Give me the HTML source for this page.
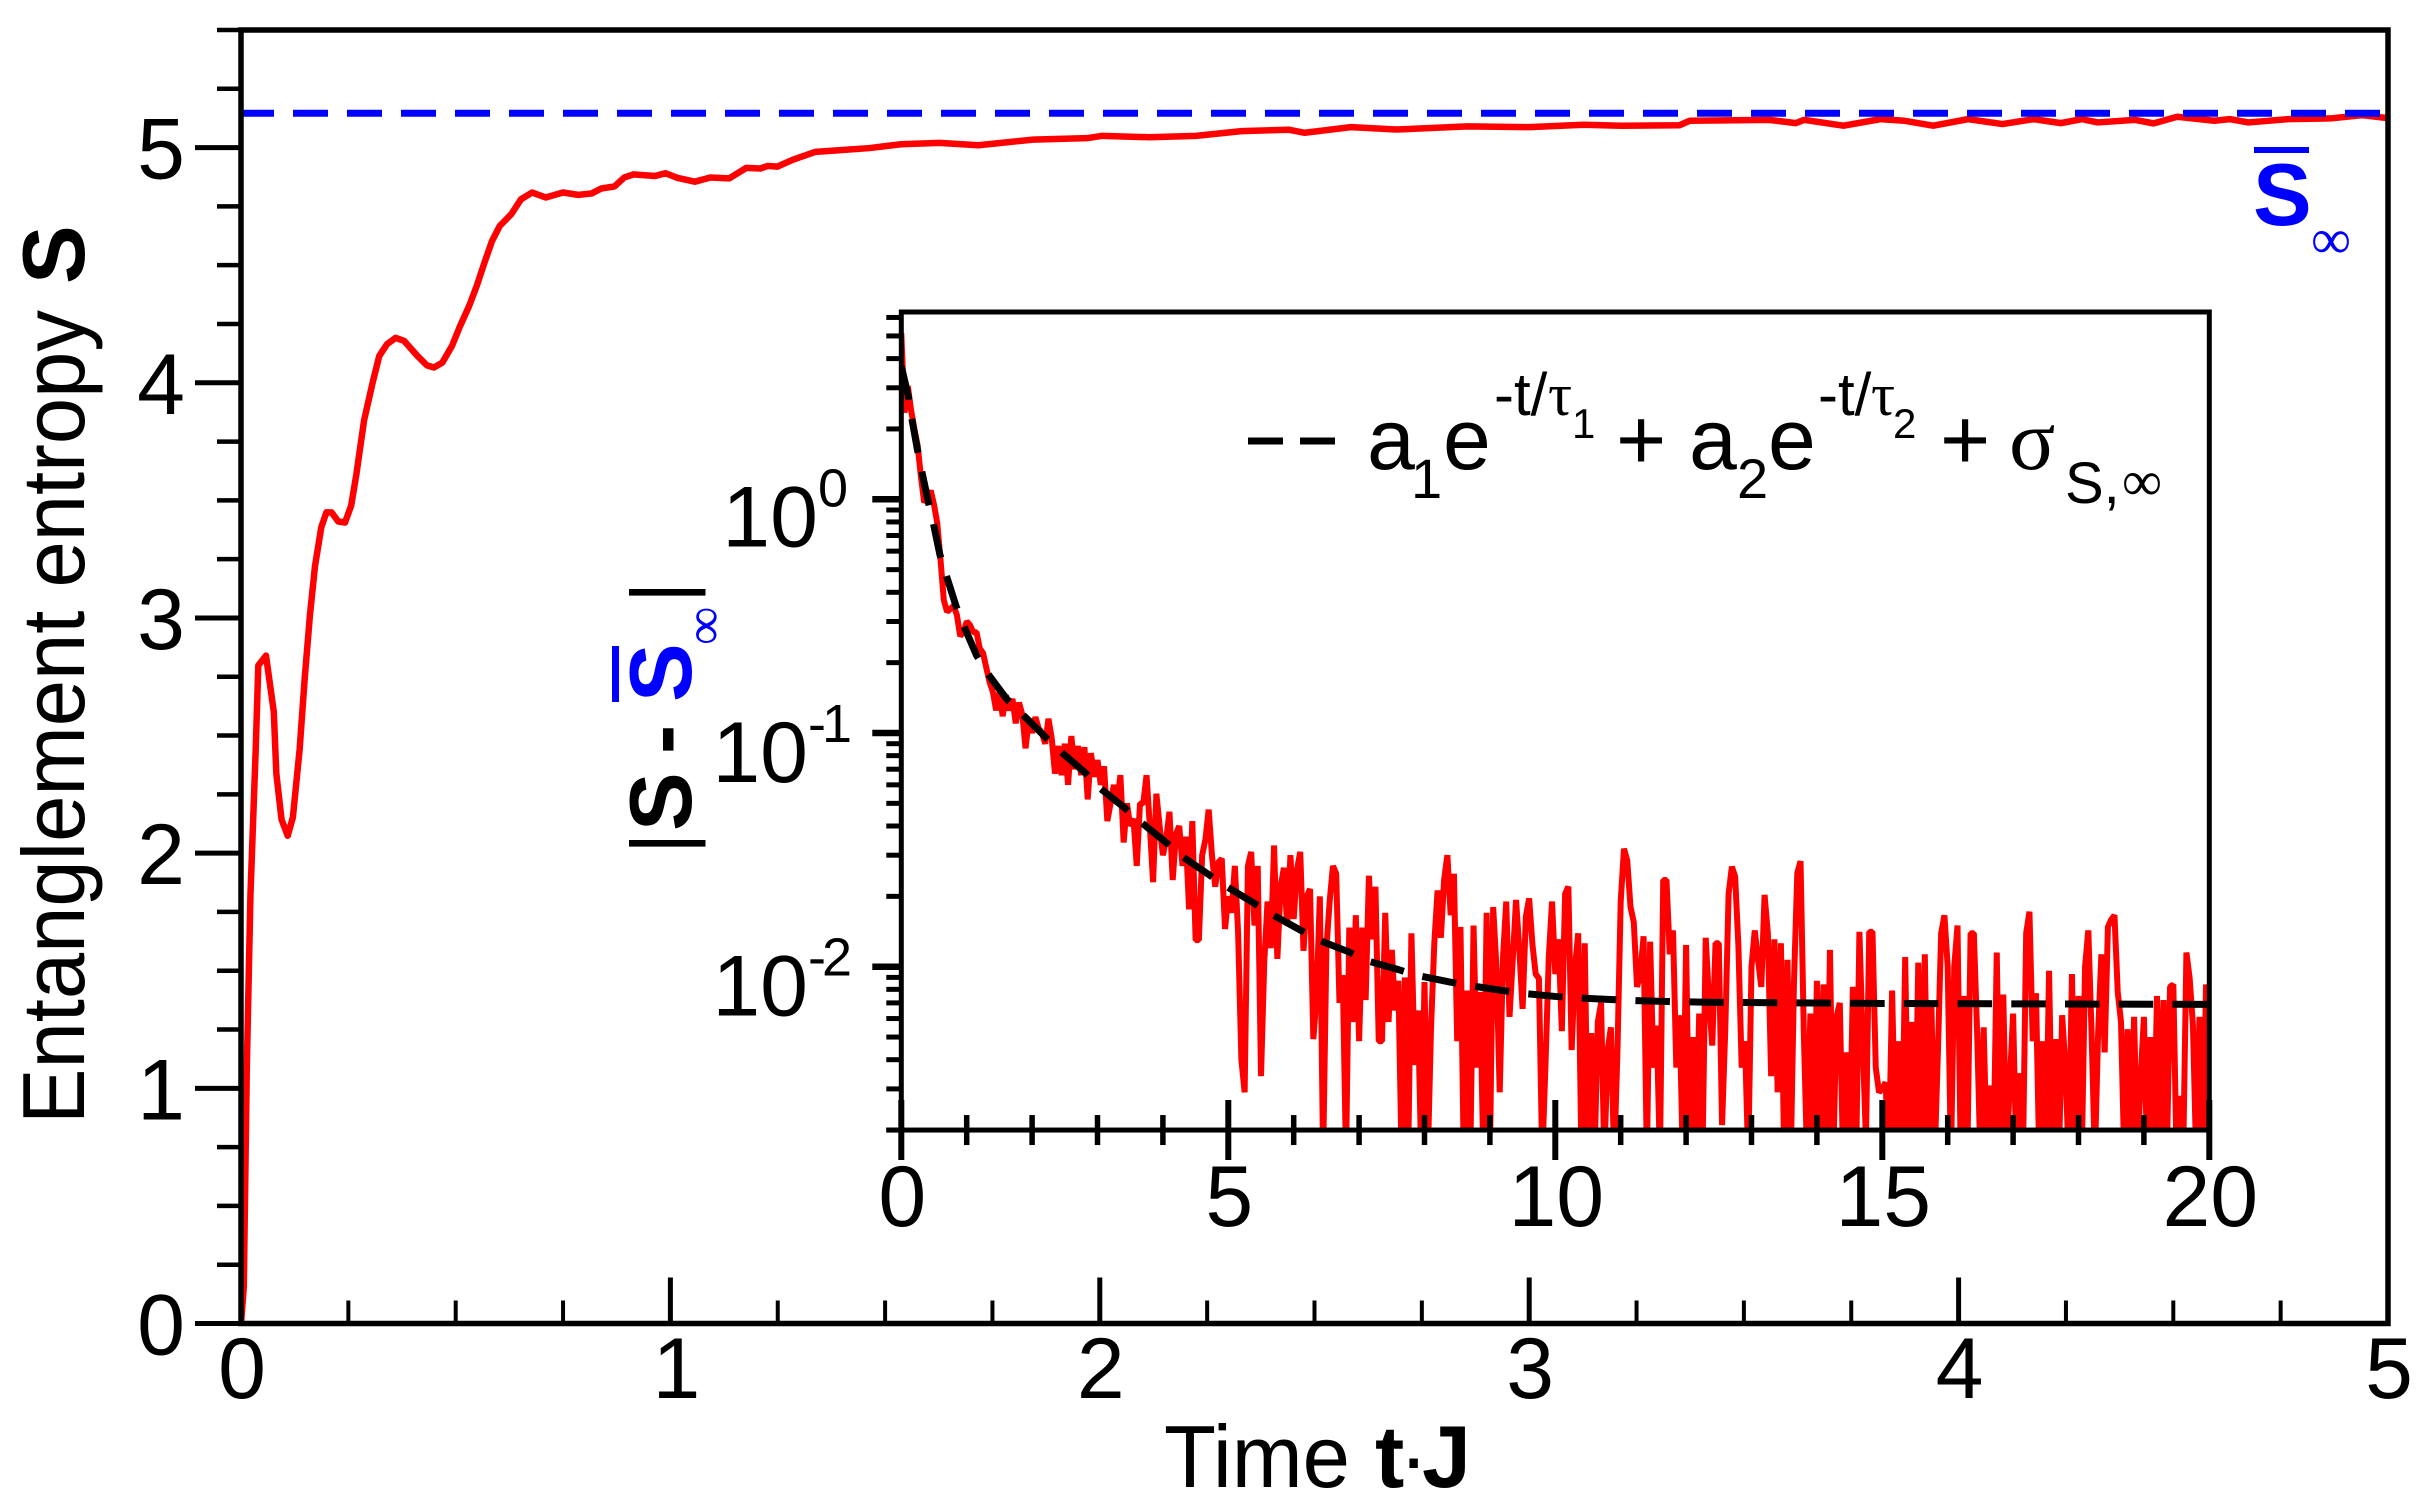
<!DOCTYPE html>
<html lang="en">
<head>
<meta charset="utf-8">
<title>Entanglement entropy vs time</title>
<style>
html,body{margin:0;padding:0;background:#fff;}
svg{display:block;}
text{font-family:"Liberation Sans",sans-serif;fill:#000;}
.b{font-weight:bold;}
.sym{font-family:"Liberation Serif",serif;}
</style>
</head>
<body>
<svg id="chart" xmlns="http://www.w3.org/2000/svg" width="2430" height="1508" viewBox="0 0 2430 1508">
<rect x="0" y="0" width="2430" height="1508" fill="#fff"/>
<defs>
<clipPath id="mainClip"><rect x="241" y="30" width="2147" height="1293.5"/></clipPath>
<clipPath id="insetClip"><rect x="901.3" y="312" width="1308" height="818"/></clipPath>
</defs>
<g id="mainMarks" clip-path="url(#mainClip)"></g>
<g id="mainAxes"></g>
<g id="insetMarks" clip-path="url(#insetClip)"></g>
<g id="insetAxes"></g>

<text x="1164" y="1487" font-size="88" textLength="186" lengthAdjust="spacingAndGlyphs">Time</text>
<text class="b" x="1375" y="1487" font-size="88">t</text>
<text x="1399" y="1487" font-size="88">·</text>
<text class="b" x="1422" y="1487" font-size="88">J</text>

<text transform="translate(84,1124) rotate(-90)" font-size="88" textLength="814" lengthAdjust="spacingAndGlyphs">Entanglement entropy</text>
<text class="b" transform="translate(84,284) rotate(-90)" font-size="88">S</text>

<g>
<rect x="2254" y="147" width="55" height="6" fill="#00f"/>
<text class="b" x="2253" y="225" font-size="88" style="fill:#00f">S</text>
<text class="sym" x="2311" y="258" font-size="56" style="fill:#00f">∞</text>
</g>

<g>
<text transform="translate(688,854) rotate(-90)" font-size="82">|</text>
<text class="b" transform="translate(691,831) rotate(-90)" font-size="88">S</text>
<text class="b" transform="translate(691,754) rotate(-90)" font-size="88">-</text>
<text class="b" transform="translate(691,702) rotate(-90)" font-size="88" style="fill:#00f">S</text>
<rect x="612" y="646" width="7" height="56" fill="#00f"/>
<text class="sym" transform="translate(722,645) rotate(-90)" font-size="54" style="fill:#00f">∞</text>
<text transform="translate(688,603) rotate(-90)" font-size="82">|</text>
</g>

<g>
<path d="M1248,441H1283M1300,441H1335" stroke="#000" stroke-width="7" fill="none"/>
<text x="1367" y="469" font-size="86">a</text>
<text x="1411" y="498" font-size="56">1</text>
<text x="1443" y="469" font-size="86">e</text>
<text x="1494" y="415" font-size="60">-t/</text>
<text class="sym" x="1548" y="415" font-size="60">τ</text>
<text x="1572" y="438" font-size="42">1</text>
<text x="1616" y="469" font-size="86">+</text>
<text x="1689" y="469" font-size="86">a</text>
<text x="1737" y="498" font-size="56">2</text>
<text x="1768" y="469" font-size="86">e</text>
<text x="1818" y="415" font-size="60">-t/</text>
<text class="sym" x="1871" y="415" font-size="60">τ</text>
<text x="1893" y="438" font-size="42">2</text>
<text x="1940" y="469" font-size="86">+</text>
<text class="sym" x="2009" y="469" font-size="86">σ</text>
<text x="2065" y="503" font-size="58">S,</text>
<text class="sym" x="2122" y="500" font-size="56">∞</text>
</g>

<script>
var mainTime = [0,.0065,.0137,.022,.0342,.0403,.0582,.0763,.0823,.0944,.1088,.1208,.1365,.1485,.1607,.1723,.187,.199,.211,.2266,.2423,.2566,.2688,.2866,.307,.322,.34,.36,.38,.411,.433,.4495,.469,.4914,.509,.5314,.549,.567,.5846,.6027,.6295,.652,.678,.7096,.75,.7855,.8167,.839,.87,.8925,.9146,.9637,.9886,1.017,1.057,1.093,1.137,1.177,1.209,1.2266,1.249,1.2846,1.338,1.372,1.464,1.536,1.627,1.717,1.844,1.97,2.006,2.115,2.224,2.33,2.44,2.477,2.585,2.69,2.857,3.0,3.127,3.214,3.35,3.374,3.559,3.621,3.64,3.732,3.818,3.874,3.941,4.022,4.102,4.175,4.238,4.287,4.324,4.41,4.454,4.509,4.595,4.632,4.675,4.767,4.866,4.94,5.0];
var mainEntropy = [0,.155,1.104,1.823,2.44,2.798,2.84,2.602,2.338,2.143,2.074,2.152,2.44,2.747,3.015,3.22,3.386,3.449,3.449,3.41,3.406,3.478,3.612,3.84,4.004,4.114,4.164,4.191,4.178,4.114,4.074,4.065,4.086,4.157,4.236,4.327,4.412,4.511,4.603,4.667,4.717,4.78,4.809,4.788,4.809,4.799,4.805,4.826,4.835,4.873,4.886,4.879,4.891,4.871,4.855,4.873,4.869,4.914,4.911,4.922,4.919,4.948,4.982,4.986,4.998,5.014,5.02,5.01,5.034,5.04,5.05,5.044,5.05,5.07,5.076,5.063,5.087,5.077,5.09,5.087,5.097,5.093,5.095,5.114,5.118,5.104,5.118,5.093,5.121,5.114,5.093,5.121,5.1,5.121,5.104,5.121,5.107,5.118,5.103,5.131,5.114,5.121,5.107,5.121,5.124,5.138,5.125];
var saturationEntropy = [5.146];
var mainXMajorTicks = [0,1,2,3,4,5];
var mainXMinorTicks = [.25,.5,.75,1.25,1.5,1.75,2.25,2.5,2.75,3.25,3.5,3.75,4.25,4.5,4.75];
var mainYMajorTicks = [0,1,2,3,4,5];
var mainYMinorTicks = [.25,.5,.75,1.25,1.5,1.75,2.25,2.5,2.75,3.25,3.5,3.75,4.25,4.5,4.75,5.25,5.5];

var insetTimeStep = [0.05];
var insetDeviation = [
5.15,2.35,3.05,2.4,2.0,1.7,1.25,.97,1.01,1.09,.95,.79,.55,.37,.33,.34,.35,.32,.26,.27,
.3,.29,.27,.27,.23,.22,.19,.165,.15,.125,.15,.118,.145,.125,.14,.11,.135,.12,.086,.115,
.1,.117,.105,.1,.09,.115,.095,.067,.088,.066,.09,.06,.097,.07,.088,.066,.087,.052,.082,.065,
.0766,.06,.072,.042,.05,.06,.05,.066,.034,.05,.04,.043,.027,.05,.05,.066,.04,.023,.055,.04,
.03,.035,.046,.0235,.037,.04,.027,.036,.0176,.042,.013,.013,.03,.035,.047,.03,.022,.028,.029,.0145,
.02,.017,.027,.014,.004,.0029,.027,.031,.015,.027,.0034,.0105,.019,.012,.033,.0108,.022,.0265,.015,.03,
.016,.026,.031,.0117,.02,.0215,.0049,.0075,.02,.0015,.012,.019,.027,.025,.007,.0092,.0015,.0147,.0058,.0166,
.0048,.0147,.0072,.0245,.0131,.022,.0048,.0048,.017,.0058,.0118,.0065,.0087,.0015,.009,.0015,.0139,.0038,.0065,.0015,
.0086,.0015,.0055,.0126,.0212,.0133,.0235,.03,.0166,.025,.0048,.0148,.0015,.0079,.0015,.015,.0037,.0078,.0015,.017,
.0015,.018,.01,.0029,.0109,.019,.0061,.0108,.0193,.0118,.0066,.0164,.0196,.0125,.0093,.0089,.0015,.0038,.0109,.019,
.0093,.0131,.0053,.0205,.022,.0044,.0098,.0139,.0015,.0126,.0015,.0052,.0015,.0058,.007,.0015,.0044,.0055,.0015,.0043,
.019,.032,.0285,.018,.0155,.0082,.0093,.0135,.0015,.0128,.0037,.0056,.0015,.0235,.0235,.0113,.0143,.0037,.0062,.0015,
.0124,.0015,.005,.0015,.0063,.0015,.0133,.0072,.0046,.0126,.0126,.0021,.0055,.0205,.0268,.0243,.0122,.0037,.0048,.0015,
.01,.0143,.0107,.0082,.0203,.0139,.0034,.0131,.0029,.0126,.0015,.0107,.0015,.0087,.0251,.0283,.0052,.0015,.0063,.0015,
.0087,.0015,.0084,.0015,.0118,.0015,.0061,.007,.0015,.0043,.0015,.0082,.0015,.0141,.0048,.0018,.0141,.0141,.0037,.0029,
.003,.0032,.0015,.0079,.0018,.0048,.0015,.011,.0015,.0058,.0015,.0104,.0015,.0113,.0015,.0071,.0015,.0043,.0139,.0166,
.01,.0015,.01,.015,.0015,.0075,.0015,.0139,.0139,.0052,.0015,.0055,.0015,.0031,.0015,.0115,.0015,.0076,.0015,.0032,
.0063,.0015,.0035,.0015,.0139,.0172,.0048,.0077,.0015,.0048,.0015,.0096,.0015,.0049,.0015,.0062,.0037,.0015,.0093,.0015,
.0075,.0015,.01,.0143,.0052,.0015,.0052,.0113,.0043,.0148,.0159,.0166,.0078,.0058,.0015,.0054,.0015,.0061,.0015,.0033,
.0061,.0015,.005,.0015,.0075,.0015,.0072,.0015,.0082,.0084,.0015,.0028,.0015,.0115,.0089,.0056,.0015,.0061,.0015,.0084,
.0015];
var fitTime = [0,.107,.158,.245,.31,.414,.49,.59,.683,.836,.95,1.15,1.305,1.61,1.815,2.197,2.4,2.81,3.01,3.42,3.62,4.06,4.26,4.7,4.92,5.38,5.61,6.07,6.35,6.835,7.09,7.6,7.88,8.39,8.67,9.18,9.46,10,10.28,10.8,11.09,11.63,12.44,15,20];
var fitDeviation = [3.71,2.76,2.24,1.64,1.33,.97,.79,.58,.477,.35,.29,.215,.182,.14,.123,.0965,.085,.0677,.0589,.0477,.0425,.0338,.0301,.0248,.0225,.0188,.0171,.0145,.0131,.0116,.01067,.00972,.00919,.0086,.00832,.00792,.00771,.00746,.00737,.00725,.00718,.00711,.00704,.00696,.0069];
var insetXMajorTicks = [0,5,10,15,20];
var insetXMinorTicks = [1,2,3,4,6,7,8,9,11,12,13,14,16,17,18,19];
var insetYMajorExponents = [0,-1,-2];
var insetYMinorTicks = [.002,.003,.004,.005,.006,.007,.008,.009,.02,.03,.04,.05,.06,.07,.08,.09,.2,.3,.4,.5,.6,.7,.8,.9,2,3,4,5,6];

var NS = 'http://www.w3.org/2000/svg';
function xMain(t){ return 241 + (t - 0) / (5 - 0) * (2388 - 241); }
function yMain(s){ return 1323.5 - (s - 0) / (5.5 - 0) * (1323.5 - 30); }
function xInset(t){ return 901.3 + (t - 0) / (20 - 0) * (2209.3 - 901.3); }
function yInset(v){ return 499.3 - 233.7 * Math.log10(v); }

function make(tag, parent, attrs){
  var el = document.createElementNS(NS, tag);
  for (var k in attrs) el.setAttribute(k, attrs[k]);
  parent.appendChild(el);
  return el;
}
function polyPoints(xs, ys, fx, fy){
  var out = [];
  for (var i = 0; i < xs.length; i++) out.push(fx(xs[i]).toFixed(2) + ',' + fy(ys[i]).toFixed(2));
  return out.join(' ');
}
var mainMarks = document.getElementById('mainMarks');
var mainAxes = document.getElementById('mainAxes');
var insetMarks = document.getElementById('insetMarks');
var insetAxes = document.getElementById('insetAxes');

/* main series */
var curve = make('polyline', mainMarks, {points: polyPoints(mainTime, mainEntropy, xMain, yMain), fill:'none', stroke:'#f00', 'stroke-width':6.5, 'stroke-linejoin':'round'});


var satLine = make('line', mainMarks, {x1: xMain(0) - 2, x2: xMain(5), y1: yMain(saturationEntropy[0]), y2: yMain(saturationEntropy[0]), stroke:'#00f', 'stroke-width':7, 'stroke-dasharray':'35 19'});



/* main axes */
var frame = make('rect', mainAxes, {x: xMain(0), y: yMain(5.5), width: xMain(5) - xMain(0), height: yMain(0) - yMain(5.5), fill:'none', stroke:'#000', 'stroke-width':5.5});


mainXMajorTicks.forEach(function(t){
  var tick = make('line', mainAxes, {x1:xMain(t), x2:xMain(t), y1:yMain(0), y2:yMain(0)-46, stroke:'#000', 'stroke-width':5});
  
  
  var label = make('text', mainAxes, {x:xMain(t) + (t === 1 ? 6 : 1), y:1398, 'font-size':86, 'text-anchor':'middle'});
  label.textContent = String(t);
  
  
});
mainXMinorTicks.forEach(function(t){
  var tick = make('line', mainAxes, {x1:xMain(t), x2:xMain(t), y1:yMain(0), y2:yMain(0)-23, stroke:'#000', 'stroke-width':4});
  
  
});
mainYMajorTicks.forEach(function(s){
  var tick = make('line', mainAxes, {x1:xMain(0)-46, x2:xMain(0), y1:yMain(s), y2:yMain(s), stroke:'#000', 'stroke-width':5});
  
  
  var label = make('text', mainAxes, {x:185, y:yMain(s)+31, 'font-size':86, 'text-anchor':'end'});
  label.textContent = String(s);
  
  
});
mainYMinorTicks.forEach(function(s){
  var tick = make('line', mainAxes, {x1:xMain(0)-24, x2:xMain(0), y1:yMain(s), y2:yMain(s), stroke:'#000', 'stroke-width':4.5});
  
  
});

/* inset series */
var insetTimes = insetDeviation.map(function(v, i){ return i * insetTimeStep[0]; });
var noisy = make('polyline', insetMarks, {points: polyPoints(insetTimes, insetDeviation, xInset, yInset), fill:'none', stroke:'#f00', 'stroke-width':6, 'stroke-linejoin':'bevel'});


var fit = make('polyline', insetMarks, {points: polyPoints(fitTime, fitDeviation, xInset, yInset), fill:'none', stroke:'#000', 'stroke-width':7, 'stroke-dasharray':'34.5 19.2'});



/* inset axes */
var insetFrame = make('rect', insetAxes, {x: xInset(0), y: 312, width: xInset(20) - xInset(0), height: yInset(0.002) - 312, fill:'none', stroke:'#000', 'stroke-width':5});


insetXMajorTicks.forEach(function(t){
  var tick = make('line', insetAxes, {x1:xInset(t), x2:xInset(t), y1:yInset(0.002)-30, y2:yInset(0.002)+30, stroke:'#000', 'stroke-width':6});
  
  
  var label = make('text', insetAxes, {x:xInset(t)+1, y:1226, 'font-size':86, 'text-anchor':'middle'});
  label.textContent = String(t);
  
  
});
insetXMinorTicks.forEach(function(t){
  var tick = make('line', insetAxes, {x1:xInset(t), x2:xInset(t), y1:yInset(0.002)-15, y2:yInset(0.002)+15, stroke:'#000', 'stroke-width':5.5});
  
  
});
insetYMajorExponents.forEach(function(e){
  var yy = yInset(Math.pow(10, e));
  var tick = make('line', insetAxes, {x1:xInset(0)-29, x2:xInset(0), y1:yy, y2:yy, stroke:'#000', 'stroke-width':6.5});
  
  
  var label = make('text', insetAxes, {x:848, y:yy+(e === 0 ? 47 : 49), 'font-size':86, 'text-anchor':'end'});
  
  
  var base = make('tspan', label, {});
  base.textContent = '10';
  var sup = make('tspan', label, {'font-size':54, dy:-40, 'letter-spacing': e < 0 ? -4 : 0});
  sup.textContent = String(e);
});
insetYMinorTicks.forEach(function(v){
  var yy = yInset(v);
  var tick = make('line', insetAxes, {x1:xInset(0)-15, x2:xInset(0), y1:yy, y2:yy, stroke:'#000', 'stroke-width':5});
  
  
});
var bottomStub = make('line', insetAxes, {x1:xInset(0)-15, x2:xInset(0), y1:yInset(0.002), y2:yInset(0.002), stroke:'#000', 'stroke-width':5});


</script>
</svg>
</body>
</html>
